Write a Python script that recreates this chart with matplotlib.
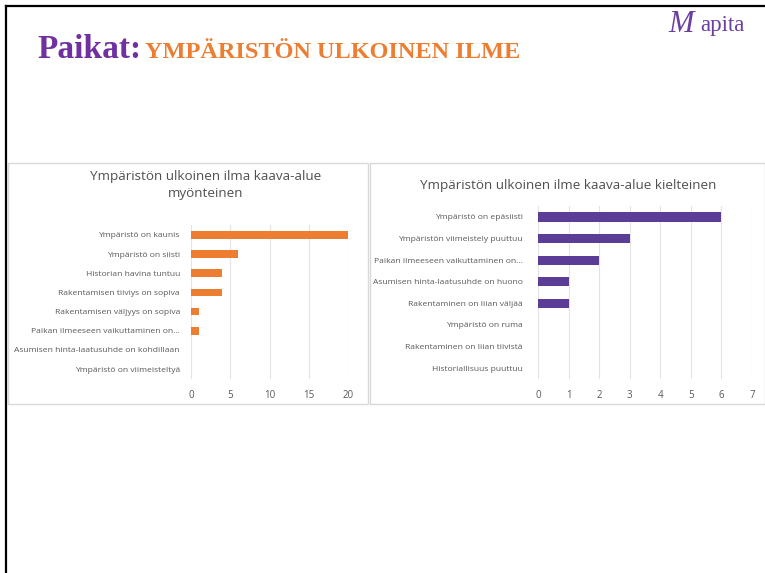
import matplotlib.pyplot as plt
from matplotlib.patches import Rectangle
from matplotlib.lines import Line2D

# data
pos_labels = ["Ympäristö on kaunis", "Ympäristö on siisti", "Historian havina tuntuu",
              "Rakentamisen tiiviys on sopiva", "Rakentamisen väljyys on sopiva",
              "Paikan ilmeeseen vaikuttaminen on...", "Asumisen hinta-laatusuhde on kohdillaan",
              "Ympäristö on viimeisteltyä"]
pos_values = [20, 6, 4, 4, 1, 1, 0, 0]

neg_labels = ["Ympäristö on epäsiisti", "Ympäristön viimeistely puuttuu",
              "Paikan ilmeeseen vaikuttaminen on...", "Asumisen hinta-laatusuhde on huono",
              "Rakentaminen on liian väljää", "Ympäristö on ruma",
              "Rakentaminen on liian tiivistä", "Historiallisuus puuttuu"]
neg_values = [6, 3, 2, 1, 1, 0, 0, 0]

orange = "#ED7D31"
purple = "#5B3C96"
gray_txt = "#595959"
W, H = 765, 573

fig = plt.figure(figsize=(7.65, 5.73), dpi=100)
plt.rcParams['font.family'] = ['Open Sans', 'DejaVu Sans']


def fx(px):
    return px / W


def fy(py):
    return 1 - py / H


# slide frame
fig.add_artist(Line2D([fx(6), fx(6)], [fy(6), 0], color="black", lw=1.6))
fig.add_artist(Line2D([fx(6), 1], [fy(6), fy(6)], color="black", lw=1.6))

# main title
fig.text(fx(37), fy(58), "Paikat:", color="#7030A0", fontsize=24, fontweight="bold",
         family="Liberation Serif", va="baseline")
fig.text(fx(145), fy(58), "YMPÄRISTÖN ULKOINEN ILME", color=orange, fontsize=17.5,
         fontweight="bold", family="Liberation Serif", va="baseline")

# logo
fig.text(fx(668), fy(32), "M", color="#6A3FA0", fontsize=22, style="italic",
         family="Liberation Serif", va="baseline")
fig.text(fx(700), fy(31), "apita", color="#6A3FA0", fontsize=16.5,
         family="Liberation Serif", va="baseline")

# panel boxes
for x0, x1 in [(8, 368), (370, 765)]:
    fig.add_artist(Rectangle((fx(x0), fy(404)), fx(x1 - x0), (404 - 163) / H,
                             transform=fig.transFigure, fill=False,
                             edgecolor="#D9D9D9", lw=1))


def draw(ax, labels, values, color, xmax, step, bh):
    y = list(range(len(labels)))
    ax.barh(y, values, height=bh, color=color, zorder=3)
    ax.set_ylim(len(labels) - 0.5, -0.5)
    ax.set_xlim(0, xmax)
    ax.set_xticks(range(0, xmax + 1, step))
    ax.set_yticks(y)
    ax.set_yticklabels(labels)
    ax.grid(axis="x", color="#E3E3E3", lw=0.8, zorder=0)
    for s in ax.spines.values():
        s.set_visible(False)
    ax.tick_params(length=0, labelcolor=gray_txt)
    ax.tick_params(axis="x", pad=8, labelsize=7)
    ax.tick_params(axis="y", pad=8, labelsize=6.1)


ax1 = fig.add_axes([fx(191), fy(378.6), fx(348 - 191), (378.6 - 225.4) / H])
draw(ax1, pos_labels, pos_values, orange, 20, 5, 0.4)

ax2 = fig.add_axes([fx(538), fy(378.8), fx(752 - 538), (378.8 - 206.2) / H])
draw(ax2, neg_labels, neg_values, purple, 7, 1, 0.42)
ax2.tick_params(axis="y", pad=11)

fig.text(fx(206), fy(185), "Ympäristön ulkoinen ilma kaava-alue\nmyönteinen", ha="center",
         va="center", fontsize=9.7, color="#505050", linespacing=1.35)
fig.text(fx(568), fy(186), "Ympäristön ulkoinen ilme kaava-alue kielteinen", ha="center",
         va="center", fontsize=9.7, color="#505050")

fig.savefig("out.png", dpi=100)
